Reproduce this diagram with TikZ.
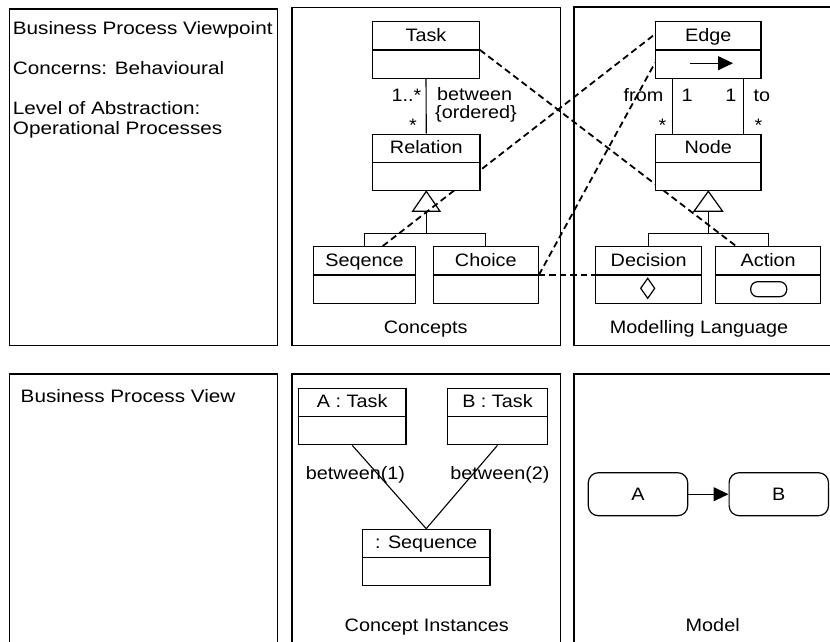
\documentclass[tikz,border=0pt]{standalone}
\usepackage{fontspec}
\setmainfont{Liberation Sans}[FakeStretch=1.1]
\newfontfamily\panelfont{Liberation Sans}[FakeStretch=1.15]
\usetikzlibrary{calc,arrows.meta}
\pgfdeclarelayer{bg}
\pgfsetlayers{bg,main}
\tikzset{
  every node/.style={font=\fontsize{18}{21}\selectfont, inner sep=0pt},
  paneltext/.style={anchor=base west, font=\panelfont\fontsize{18}{21}\selectfont},
  panel/.style={draw, line width=1.2pt},
  classbox/.style={draw, fill=white, line width=1.2pt, minimum height=56.4pt, inner sep=0pt},
  lbl/.style={anchor=base},
  assoc/.style={line width=1.1pt},
  trace/.style={line width=1.8pt, dash pattern=on 6.5pt off 4pt},
  modelbox/.style={draw, fill=white, line width=1.2pt, rounded corners=10pt, minimum width=99.4pt, minimum height=43pt},
  flow/.style={line width=1.2pt, -{Triangle[length=15pt,width=14pt]}},
  gen/.style={draw, line width=1.2pt, line join=miter},
}
\newcommand\umlclass[5]{%
  \node[classbox, minimum width=#4pt] (#1) at (#2,{#3+28.2}) {};
  \draw[line width=1.2pt] (#1.west) -- (#1.east);
  \node[lbl] (#1-label) at ($(#1.north)+(0,20)$) {#5};
}
\begin{document}
\begin{tikzpicture}[x=1pt,y=-1pt]
\useasboundingbox (0,0) rectangle (830,641);
\clip (0,0) rectangle (830,641);
% panels
\draw[panel] (9.3,9) rectangle (277.7,345.5);
\draw[panel] (292,7.3) rectangle (560.5,345.5);
\draw[panel] (574,7) rectangle (852,345.5);
\draw[panel] (9.3,374) rectangle (277.7,660);
\draw[panel] (292,374) rectangle (560.5,660);
\draw[panel] (574,374) rectangle (852,660);
% left texts
\node[paneltext] (vp1) at (12.7,34.3) {Business Process Viewpoint};
\node[paneltext] (vp2) at (12.7,74.3) {Concerns: Behavioural};
\node[paneltext] (vp3) at (12.7,114.3) {Level of Abstraction:};
\node[paneltext] (vp4) at (12.7,134.3) {Operational Processes};
\node[paneltext] (vw1) at (20.5,402.5) {Business Process View};
% classes
\umlclass{task}{426}{21.7}{106.6}{Task}
\umlclass{relation}{426.3}{134.3}{107.3}{Relation}
\umlclass{seq}{364.5}{246.7}{102.4}{Seqence}
\umlclass{choice}{485.8}{246.7}{105}{Choice}
\umlclass{edge}{708.3}{21.7}{105.3}{Edge}
\umlclass{nodebox}{708.3}{134.3}{105.3}{Node}
\umlclass{decision}{648.7}{246.7}{106}{Decision}
\umlclass{action}{768.2}{246.7}{105}{Action}
\umlclass{atask}{352.2}{388.3}{107.7}{A : Task}
\umlclass{btask}{497.5}{388.3}{100.4}{B : Task}
\umlclass{sequence}{426.2}{529.3}{127.7}{: Sequence}
% associations
\draw[assoc] (task.south) -- (relation.north);
\draw[assoc] ($(edge.south west)+(17.6,0)$) -- ($(nodebox.north west)+(17.6,0)$);
\draw[assoc] ($(edge.south east)+(-17.7,0)$) -- ($(nodebox.north east)+(-17.7,0)$);
\draw[assoc] (atask.south) -- (sequence.north);
\draw[assoc] (btask.south) -- (sequence.north);
% generalizations
\draw[gen] (relation.south) -- ++(-13.7,20) -- ++(27.4,0) -- cycle;
\draw[assoc] ($(relation.south)+(0,20)$) -- ++(0,22.6) coordinate (gm);
\draw[assoc] (seq.north) |- (gm) -| (choice.north);
\draw[gen] (nodebox.south) -- ++(-14.3,20) -- ++(28.6,0) -- cycle;
\draw[assoc] ($(nodebox.south)+(0,20)$) -- ++(0,22.6) coordinate (gr);
\draw[assoc] (decision.north) |- (gr) -| (action.north);
% icons
\draw[flow] ($(edge.center)+(-18.3,13.3)$) -- ($(edge.center)+(24.7,13.3)$);
\draw[line width=1.2pt] ($(decision.center)+(-1,3.4)$) -- ++(7,10) -- ++(-7,10) -- ++(-7,-10) -- cycle;
\draw[line width=1.2pt, rounded corners=7pt] ($(action.center)+(-17.5,6.8)$) rectangle ($(action.center)+(18.5,21.8)$);
% multiplicities
\node[anchor=base east] (m1) at (421.5,101) {1..*};
\node[anchor=base east] (m2) at (417,131.5) {*};
\node[anchor=base west] (r1) at (437,100.5) {between};
\node[anchor=base west] (r2) at (435,118.5) {\{ordered\}};
\node[anchor=base east] (fromL) at (663.5,101.5) {from};
\node[anchor=base west] (one1) at (681.5,101.5) {1};
\node[anchor=base east] (one2) at (736.5,101.5) {1};
\node[anchor=base west] (toL) at (753.3,101.5) {to};
\node[anchor=base east] (st1) at (666.5,131.5) {*};
\node[anchor=base west] (st2) at (754.5,131.5) {*};
% captions
\node[lbl] (capc) at (425.7,333.3) {Concepts};
\node[lbl] (capm) at (699,333.3) {Modelling Language};
\node[lbl] (capci) at (426.7,631.5) {Concept Instances};
\node[lbl] (capmo) at (712.7,631.5) {Model};
% instance links
\node[lbl] (b1) at (355.5,479.5) {between(1)};
\node[lbl] (b2) at (500,479.5) {between(2)};
% model
\node[modelbox] (ma) at (638,494.2) {A};
\node[modelbox] (mb) at (778.8,494.2) {B};
\draw[flow] (ma) -- (mb);
% traces
\begin{pgfonlayer}{bg}
\draw[trace] (task.east) -- ($(action.north west)+(21,0)$);
\draw[trace] ($(seq.north west)+(70,0)$) -- ($(edge.north west)+(0,13)$);
\draw[trace] (choice.east) -- ($(edge.north west)+(0,41.6)$);
\draw[trace] (choice.east) -- (decision.west);
\end{pgfonlayer}
\end{tikzpicture}
\end{document}
